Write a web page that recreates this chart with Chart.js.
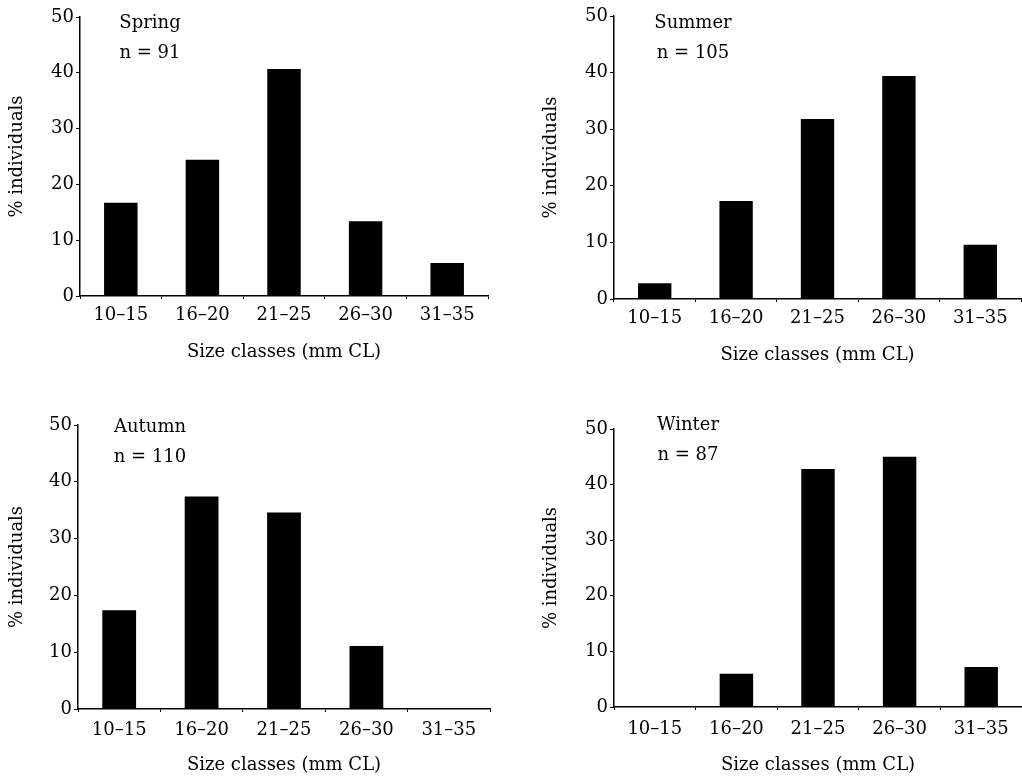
<!DOCTYPE html>
<html lang="en">
<head>
    <meta charset="UTF-8">
    <title>Size class distribution by season</title>
    <script src="https://cdn.jsdelivr.net/npm/chart.js"></script>
    <style>
        body {
            margin: 0;
            padding: 0;
            background: #fff;
        }
        .grid {
            position: relative;
            width: 1022px;
            height: 776px;
        }
        .grid canvas {
            position: absolute;
        }
    </style>
</head>
<body>
    <div class="grid">
        <canvas id="springChart" width="511" height="388" style="left:0;top:0"></canvas>
        <canvas id="summerChart" width="511" height="388" style="left:511px;top:0"></canvas>
        <canvas id="autumnChart" width="511" height="388" style="left:0;top:388px"></canvas>
        <canvas id="winterChart" width="511" height="388" style="left:511px;top:388px"></canvas>
    </div>

    <script>
        // data (% of individuals per size class)
        const sizeClasses = ['10\u201315', '16\u201320', '21\u201325', '26\u201330', '31\u201335'];
        const springValues = [16.7, 24.4, 40.7, 13.4, 5.9];
        const summerValues = [2.8, 17.3, 31.8, 39.4, 9.6];
        const autumnValues = [17.4, 37.4, 34.6, 11.1, 0];
        const winterValues = [0, 6.0, 42.8, 45.0, 7.2];
        const yTicks = [0, 10, 20, 30, 40, 50];

        const FONT = "'DejaVu Serif', 'Liberation Serif', serif";
        const SIZE = 18;

        // writes the season name and sample size inside the plot area
        const seasonLabel = {
            id: 'seasonLabel',
            afterDraw(chart, args, opts) {
                const ctx = chart.ctx;
                const area = chart.chartArea;
                ctx.save();
                ctx.fillStyle = '#000';
                ctx.font = SIZE + 'px ' + FONT;
                ctx.textAlign = 'center';
                ctx.textBaseline = 'middle';
                ctx.fillText(opts.name, area.left + opts.dx, area.top + opts.dy);
                ctx.fillText('n = ' + opts.n, area.left + opts.dx, area.top + opts.dy + 30);
                ctx.restore();
            }
        };

        function drawPanel(id, name, n, values, p) {
            const ctx = document.getElementById(id).getContext('2d');
            return new Chart(ctx, {
                type: 'bar',
                data: {
                    labels: sizeClasses,
                    datasets: [{
                        data: values,
                        backgroundColor: '#000',
                        borderWidth: 0,
                        categoryPercentage: 1,
                        barPercentage: 0.41
                    }]
                },
                options: {
                    responsive: false,
                    animation: false,
                    events: [],
                    layout: {
                        padding: { top: p.top, right: p.right, left: 0, bottom: 0 }
                    },
                    plugins: {
                        legend: { display: false },
                        tooltip: { enabled: false },
                        seasonLabel: { name: name, n: n, dx: p.dx, dy: p.dy }
                    },
                    scales: {
                        x: {
                            grid: {
                                offset: true,
                                drawOnChartArea: false,
                                tickLength: 3,
                                color: '#000'
                            },
                            border: { color: '#000', width: 1.5 },
                            ticks: {
                                color: '#000',
                                padding: p.tickPad,
                                maxRotation: 0,
                                font: { family: FONT, size: SIZE }
                            },
                            title: {
                                display: true,
                                text: 'Size classes (mm CL)',
                                color: '#000',
                                padding: { top: 0, bottom: p.titlePad },
                                font: { family: FONT, size: SIZE }
                            },
                            afterFit(scale) {
                                scale.height = p.xHeight;
                            }
                        },
                        y: {
                            min: 0,
                            max: 50,
                            afterBuildTicks(scale) {
                                scale.ticks = yTicks.map(v => ({ value: v }));
                            },
                            grid: {
                                drawOnChartArea: false,
                                tickLength: 4,
                                color: '#000'
                            },
                            border: { color: '#000', width: 1.5 },
                            ticks: {
                                color: '#000',
                                padding: 2,
                                font: { family: FONT, size: SIZE }
                            },
                            title: {
                                display: true,
                                text: '% individuals',
                                color: '#000',
                                padding: { top: p.yTitlePad, bottom: 0 },
                                font: { family: FONT, size: SIZE }
                            },
                            afterFit(scale) {
                                scale.width = p.yWidth;
                            }
                        }
                    }
                },
                plugins: [seasonLabel]
            });
        }

        drawPanel('springChart', 'Spring', 91, springValues,
            { top: 17, right: 23, xHeight: 92, yWidth: 80, tickPad: 6, titlePad: 25, yTitlePad: 7, dx: 70, dy: 6 });
        drawPanel('summerChart', 'Summer', 105, summerValues,
            { top: 16, right: 1, xHeight: 89, yWidth: 103, tickPad: 6, titlePad: 22, yTitlePad: 30, dx: 79, dy: 7 });
        drawPanel('autumnChart', 'Autumn', 110, autumnValues,
            { top: 37, right: 21, xHeight: 67, yWidth: 78, tickPad: 8, titlePad: 0, yTitlePad: 7, dx: 72, dy: 2 });
        drawPanel('winterChart', 'Winter', 87, winterValues,
            { top: 41, right: 0, xHeight: 69, yWidth: 103, tickPad: 9, titlePad: 0, yTitlePad: 30, dx: 74, dy: -4 });
    </script>
</body>
</html>
